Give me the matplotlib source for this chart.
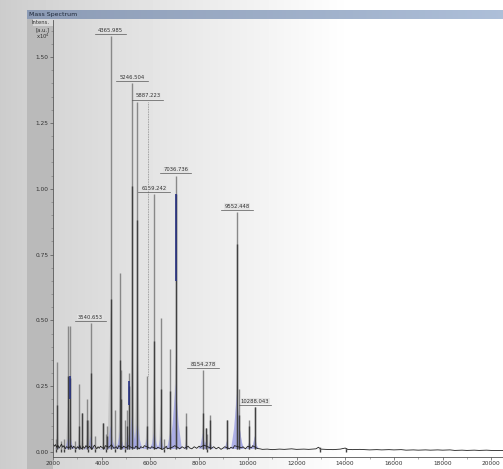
import numpy as np
import matplotlib
matplotlib.use("Agg")
from matplotlib import pyplot as plt
from matplotlib.patches import Rectangle

# Peak sticks: m/z, intensity (x10^4 a.u.) and the
# height of the darker profile trace drawn over each stick.
peak_mz = [2110, 2181, 2330, 2460, 2608, 2714, 2900, 3072, 3207, 3400, 3455,
           3541, 3729, 4070, 4180, 4234, 4366, 4563, 4756, 4809, 4960, 5031,
           5138, 5247, 5466, 5852, 6159, 6427, 6560, 6809, 7037, 7466, 8154,
           8275, 8340, 8452, 9138, 9552, 9655, 10066, 10288, 12950, 14050]
peak_int = [0.05, 0.34, 0.04, 0.05, 0.48, 0.48, 0.04, 0.26, 0.15, 0.20, 0.12,
            0.49, 0.06, 0.11, 0.07, 0.10, 1.58, 0.16, 0.68, 0.31, 0.12, 0.16,
            0.30, 1.40, 1.33, 0.29, 0.98, 0.51, 0.05, 0.39, 1.05, 0.15, 0.31,
            0.09, 0.07, 0.14, 0.12, 0.91, 0.24, 0.12, 0.17, 0.02, 0.015]
peak_core = [0.0, 0.18, 0.0, 0.0, 0.29, 0.28, 0.0, 0.10, 0.15, 0.12, 0.0,
             0.30, 0.0, 0.11, 0.0, 0.06, 0.58, 0.0, 0.35, 0.20, 0.0, 0.10,
             0.25, 1.01, 0.88, 0.10, 0.42, 0.24, 0.0, 0.23, 0.98, 0.10, 0.15,
             0.09, 0.0, 0.12, 0.12, 0.79, 0.14, 0.10, 0.17, 0.0, 0.0]
# smoothed envelope under each peak (the lilac fill)
peak_env = [0.0, 0.03, 0.0, 0.0, 0.05, 0.06, 0.0, 0.03, 0.02, 0.03, 0.0,
            0.06, 0.0, 0.02, 0.0, 0.03, 0.10, 0.03, 0.08, 0.05, 0.02, 0.04,
            0.08, 0.14, 0.12, 0.05, 0.08, 0.06, 0.0, 0.07, 0.26, 0.03, 0.07,
            0.04, 0.03, 0.04, 0.04, 0.22, 0.10, 0.04, 0.06, 0.0, 0.0]

# dark blue stretches on some sticks
blue_mz = [2714, 5138, 7037]
blue_lo = [0.20, 0.18, 0.65]
blue_hi = [0.29, 0.27, 0.98]

# annotated peaks and the height where their label sits
label_mz = [3540.653, 4365.985, 5246.504, 5887.223, 6159.242, 7036.736,
            8154.278, 9552.448, 10288.043]
label_y = [0.49, 1.58, 1.40, 1.33, 0.98, 1.05, 0.31, 0.91, 0.17]

# noisy baseline
base_mz = [2000, 2050, 2100, 2150, 2200, 2250, 2300, 2350, 2400, 2450, 2500,
           2550, 2650, 2750, 2800, 2850, 2950, 3000, 3050, 3100, 3150, 3250,
           3300, 3350, 3450, 3500, 3600, 3650, 3700, 3800, 3850, 3900, 3950,
           4000, 4100, 4150, 4300, 4400, 4500, 4600, 4650, 4700, 4850, 4900,
           5000, 5100, 5200, 5350, 5400, 5550, 5600, 5700, 5750, 6000, 6050,
           6250, 6300, 6500, 6600, 6650, 6700, 6900, 7000, 7150, 7200, 7300,
           7400, 7550, 7600, 7700, 7800, 7900, 8000, 8050, 8200, 8300, 8400,
           8500, 8600, 8700, 8800, 8900, 9000, 9050, 9250, 9300, 9400, 9450,
           9750, 9800, 9900, 10000, 10150, 10200, 10400, 10500, 10600, 10800,
           11000, 11300, 11500, 11800, 12000, 12300, 12500, 12800, 12900,
           13000, 13200, 13500, 13800, 14000, 14100, 14300, 14600, 15000,
           15300, 15500, 15800, 16000, 16300, 16500, 16800, 17000, 17300,
           17500, 17800, 18000, 18300, 18500, 18800, 19000, 19300, 19500,
           19800, 20000, 20200, 20480]
base_int = [0.030, 0.022, 0.028, 0.018, 0.025, 0.015, 0.022, 0.030, 0.018,
            0.024, 0.012, 0.020, 0.016, 0.024, 0.014, 0.022, 0.012, 0.020,
            0.015, 0.025, 0.012, 0.020, 0.014, 0.024, 0.016, 0.022, 0.010,
            0.018, 0.026, 0.012, 0.020, 0.014, 0.022, 0.018, 0.012, 0.024,
            0.018, 0.028, 0.014, 0.020, 0.012, 0.024, 0.015, 0.022, 0.016,
            0.024, 0.018, 0.014, 0.022, 0.012, 0.020, 0.016, 0.024, 0.014,
            0.020, 0.012, 0.018, 0.010, 0.016, 0.022, 0.012, 0.018, 0.024,
            0.016, 0.012, 0.020, 0.014, 0.022, 0.016, 0.012, 0.020, 0.014,
            0.022, 0.018, 0.026, 0.022, 0.018, 0.014, 0.020, 0.012, 0.018,
            0.010, 0.016, 0.020, 0.012, 0.018, 0.014, 0.024, 0.016, 0.020,
            0.012, 0.022, 0.016, 0.024, 0.013, 0.012, 0.010, 0.011, 0.009,
            0.011, 0.010, 0.012, 0.010, 0.011, 0.010, 0.012, 0.018, 0.011,
            0.010, 0.009, 0.011, 0.015, 0.010, 0.009, 0.010, 0.008, 0.009,
            0.008, 0.009, 0.008, 0.009, 0.007, 0.008, 0.007, 0.008, 0.007,
            0.008, 0.007, 0.008, 0.006, 0.007, 0.006, 0.007, 0.006, 0.007,
            0.006, 0.006, 0.006]


def main():
    W, H = 503, 469
    fig = plt.figure(figsize=(W / 100, H / 100), dpi=100)

    # screen-photo backdrop: grey on the left fading to white
    bg = fig.add_axes([0, 0, 1, 1])
    bg.set_xlim(0, W)
    bg.set_ylim(H, 0)
    bg.axis("off")
    cols = np.linspace(0, 1, W)
    shade = 0.80 + 0.20 * np.clip(cols / 0.7, 0, 1) ** 0.9
    img = np.tile(shade, (H, 1))
    bg.imshow(img, cmap="gray", vmin=0, vmax=1, extent=[0, W, H, 0],
              aspect="auto")
    bg.add_patch(Rectangle((27, 19), 26, H - 19, color="#bababa", lw=0))
    bg.add_patch(Rectangle((33, 19), 20, 7, color="#d8d8d8", lw=0))
    bar = np.linspace(0, 1, 200)
    c0 = np.array([0.55, 0.61, 0.71])
    c1 = np.array([0.68, 0.75, 0.85])
    bar_img = (c0[None, :] + (c1 - c0)[None, :] * bar[:, None])[None, :, :]
    bg.imshow(bar_img, extent=[27, W, 19, 10], aspect="auto")
    bg.text(29, 14.5, "Mass Spectrum", fontsize=4.5, color="#1e2838",
            va="center", ha="left")
    bg.text(50, 22.5, "Intens.", fontsize=3.8, color="#333", ha="right",
            va="center")
    bg.text(50, 29.5, "[a.u.]", fontsize=3.8, color="#333", ha="right",
            va="center")
    bg.text(50, 36.5, r"x10$^4$", fontsize=3.8, color="#333", ha="right",
            va="center")

    ax = fig.add_axes([53 / W, 12 / H, 450 / W, 437 / H])
    ax.patch.set_alpha(0)
    ax.set_xlim(2000, 20480)
    ax.set_ylim(-0.019, 1.641)

    # lilac envelopes and the grey smoothed skirts of each peak
    for mz, h, env in zip(peak_mz, peak_int, peak_env):
        w = 60 + 40 * h
        ax.fill([mz - w, mz, mz + w], [0.012, h * 0.35, 0.012],
                color="#a9a9a9", alpha=0.45, lw=0)
        if env > 0:
            w = 150 + 400 * env
            ax.fill([mz - w, mz - w / 2, mz, mz + w / 2, mz + w],
                    [0.012, env * 0.4, env, env * 0.4, 0.012],
                    color="#a3a6e6", alpha=0.85, lw=0)

    ax.vlines(peak_mz, 0.012, peak_int, color="#888888", lw=1.0)
    ax.vlines(peak_mz, 0.012, peak_core, color="#404040", lw=1.0)
    ax.vlines(blue_mz, blue_lo, blue_hi, color="#2a3484", lw=1.2)
    ax.plot(base_mz, base_int, color="#202020", lw=0.6)

    for mz, y in zip(label_mz, label_y):
        near = min(zip(peak_mz, peak_int), key=lambda p: abs(p[0] - mz))
        if y > near[1] + 0.05:
            ax.vlines(mz, near[1], y, color="#888", lw=0.6,
                      linestyles=(0, (1, 1)))
        ax.plot([mz - 650, mz + 650], [y + 0.008, y + 0.008],
                color="#555", lw=0.5)
        ax.text(mz, y + 0.013, f"{mz:.3f}", fontsize=3.8, color="#333",
                ha="center", va="bottom",
                bbox=dict(boxstyle="square,pad=0.1", fc="#e2e2e2",
                          ec="none", alpha=0.8))

    for side in ("top", "right"):
        ax.spines[side].set_visible(False)
    for side in ("left", "bottom"):
        ax.spines[side].set_color("#555")
        ax.spines[side].set_linewidth(0.6)
    ax.set_yticks(np.arange(0, 1.51, 0.25))
    ax.set_yticks(np.arange(0, 1.61, 0.05), minor=True)
    ax.set_xticks(np.arange(2000, 20001, 2000))
    ax.set_xticks(np.arange(2000, 20481, 1000), minor=True)
    ax.yaxis.set_major_formatter(matplotlib.ticker.FormatStrFormatter("%.2f"))
    ax.tick_params(which="major", length=2.2, width=0.5, color="#555",
                   labelsize=4.2, labelcolor="#333", pad=1)
    ax.tick_params(which="minor", length=1.2, width=0.4, color="#777")

    fig.savefig("out.png", dpi=100)


if __name__ == "__main__":
    main()
